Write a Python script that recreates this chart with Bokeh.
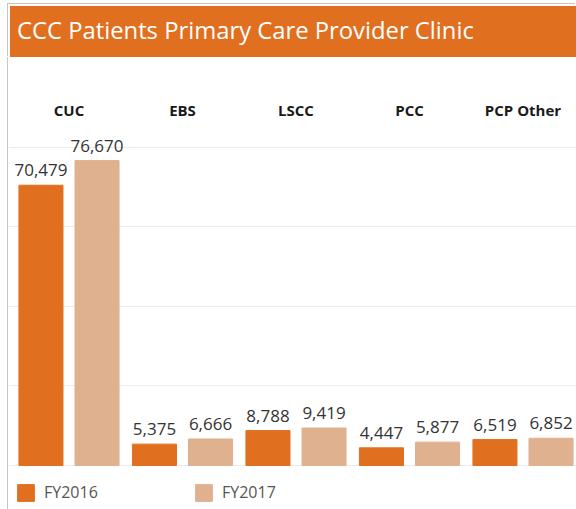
from bokeh.plotting import figure
from bokeh.models import (Range1d, LinearAxis, FixedTicker, Legend, LegendItem,
                          Div, ColumnDataSource, Grid)
from bokeh.transform import dodge
from bokeh.layouts import column
from bokeh.embed import file_html
from bokeh.resources import INLINE
from bokeh.core.properties import value

# ---- data ----
title_text = "CCC Patients Primary Care Provider Clinic"
clinics = ["CUC", "EBS", "LSCC", "PCC", "PCP Other"]
fy2016 = [70479, 5375, 8788, 4447, 6519]
fy2017 = [76670, 6666, 9419, 5877, 6852]
series = ["FY2016", "FY2017"]
grid_ticks = [0, 20000, 40000, 60000, 80000]

ORANGE = "#E0701F"
TAN = "#DFB18F"
BORDER = "#C9C5BD"
FONT = "Open Sans"

idx = list(range(len(clinics)))
src = ColumnDataSource(dict(
    idx=idx, clinic=clinics, fy2016=fy2016, fy2017=fy2017,
    l16=[f"{v:,}" for v in fy2016], l17=[f"{v:,}" for v in fy2017],
))

header = Div(
    text=title_text, width=568, height=53, margin=(4, 0, 0, 8),
    styles={"background-color": ORANGE, "color": "white", "font-family": FONT,
            "font-size": "23.8px", "line-height": "48px", "padding-left": "7px",
            "box-sizing": "border-box",
            "border-top": "2px solid white", "border-left": "2px solid white",
            "box-shadow": f"-1px -1px 0 0 {BORDER}",
            "white-space": "nowrap", "overflow": "hidden"},
)

p = figure(width=568, height=452, output_backend="svg", toolbar_location=None,
           x_range=Range1d(-0.533, 4.4714), y_range=Range1d(-11064, 86000),
           x_axis_type=None, y_axis_type=None, margin=(0, 0, 0, 8),
           min_border_left=0, min_border_right=0, min_border_top=66,
           min_border_bottom=0, outline_line_color=None,
           styles={"box-shadow": f"-1px 0 0 0 {BORDER}"})

grid = Grid(dimension=1, ticker=FixedTicker(ticks=grid_ticks),
            grid_line_color="#EBEBEB", grid_line_width=1)
p.add_layout(grid)

top_axis = LinearAxis(ticker=FixedTicker(ticks=idx),
                      major_label_overrides={i: c for i, c in zip(idx, clinics)},
                      axis_line_color=None, major_tick_line_color=None,
                      minor_tick_line_color=None, major_label_standoff=-2,
                      major_label_text_font=FONT, major_label_text_font_size="15px",
                      major_label_text_font_style="bold",
                      major_label_text_color="#1A1A1A")
p.add_layout(top_axis, "above")

off = 0.247
bw = 0.388
r16 = p.vbar(x=dodge("idx", -off, range=p.x_range), top="fy2016", width=bw,
             color=ORANGE, source=src)
r17 = p.vbar(x=dodge("idx", off, range=p.x_range), top="fy2017", width=bw,
             color=TAN, source=src)

for col, lab, o in (("fy2016", "l16", -off), ("fy2017", "l17", off)):
    p.text(x=dodge("idx", o, range=p.x_range), y=col, text=lab, source=src,
           text_align="center", text_baseline="alphabetic", y_offset=-15,
           text_font=value(FONT), text_font_size="17px", text_color="#333333")

legend = Legend(items=[LegendItem(label=series[0], renderers=[r16]),
                       LegendItem(label=series[1], renderers=[r17])],
                location=(7, 6), orientation="horizontal",
                glyph_width=21, glyph_height=21, label_standoff=8,
                label_width=149, label_height=21, spacing=0, padding=0, margin=0,
                border_line_color=None, background_fill_alpha=0,
                label_text_font=FONT, label_text_font_size="16px",
                label_text_color="#555555", label_text_baseline="middle")
p.add_layout(legend)

layout = column(header, p, spacing=0)
open("out.html", "w").write(file_html(layout, INLINE))
